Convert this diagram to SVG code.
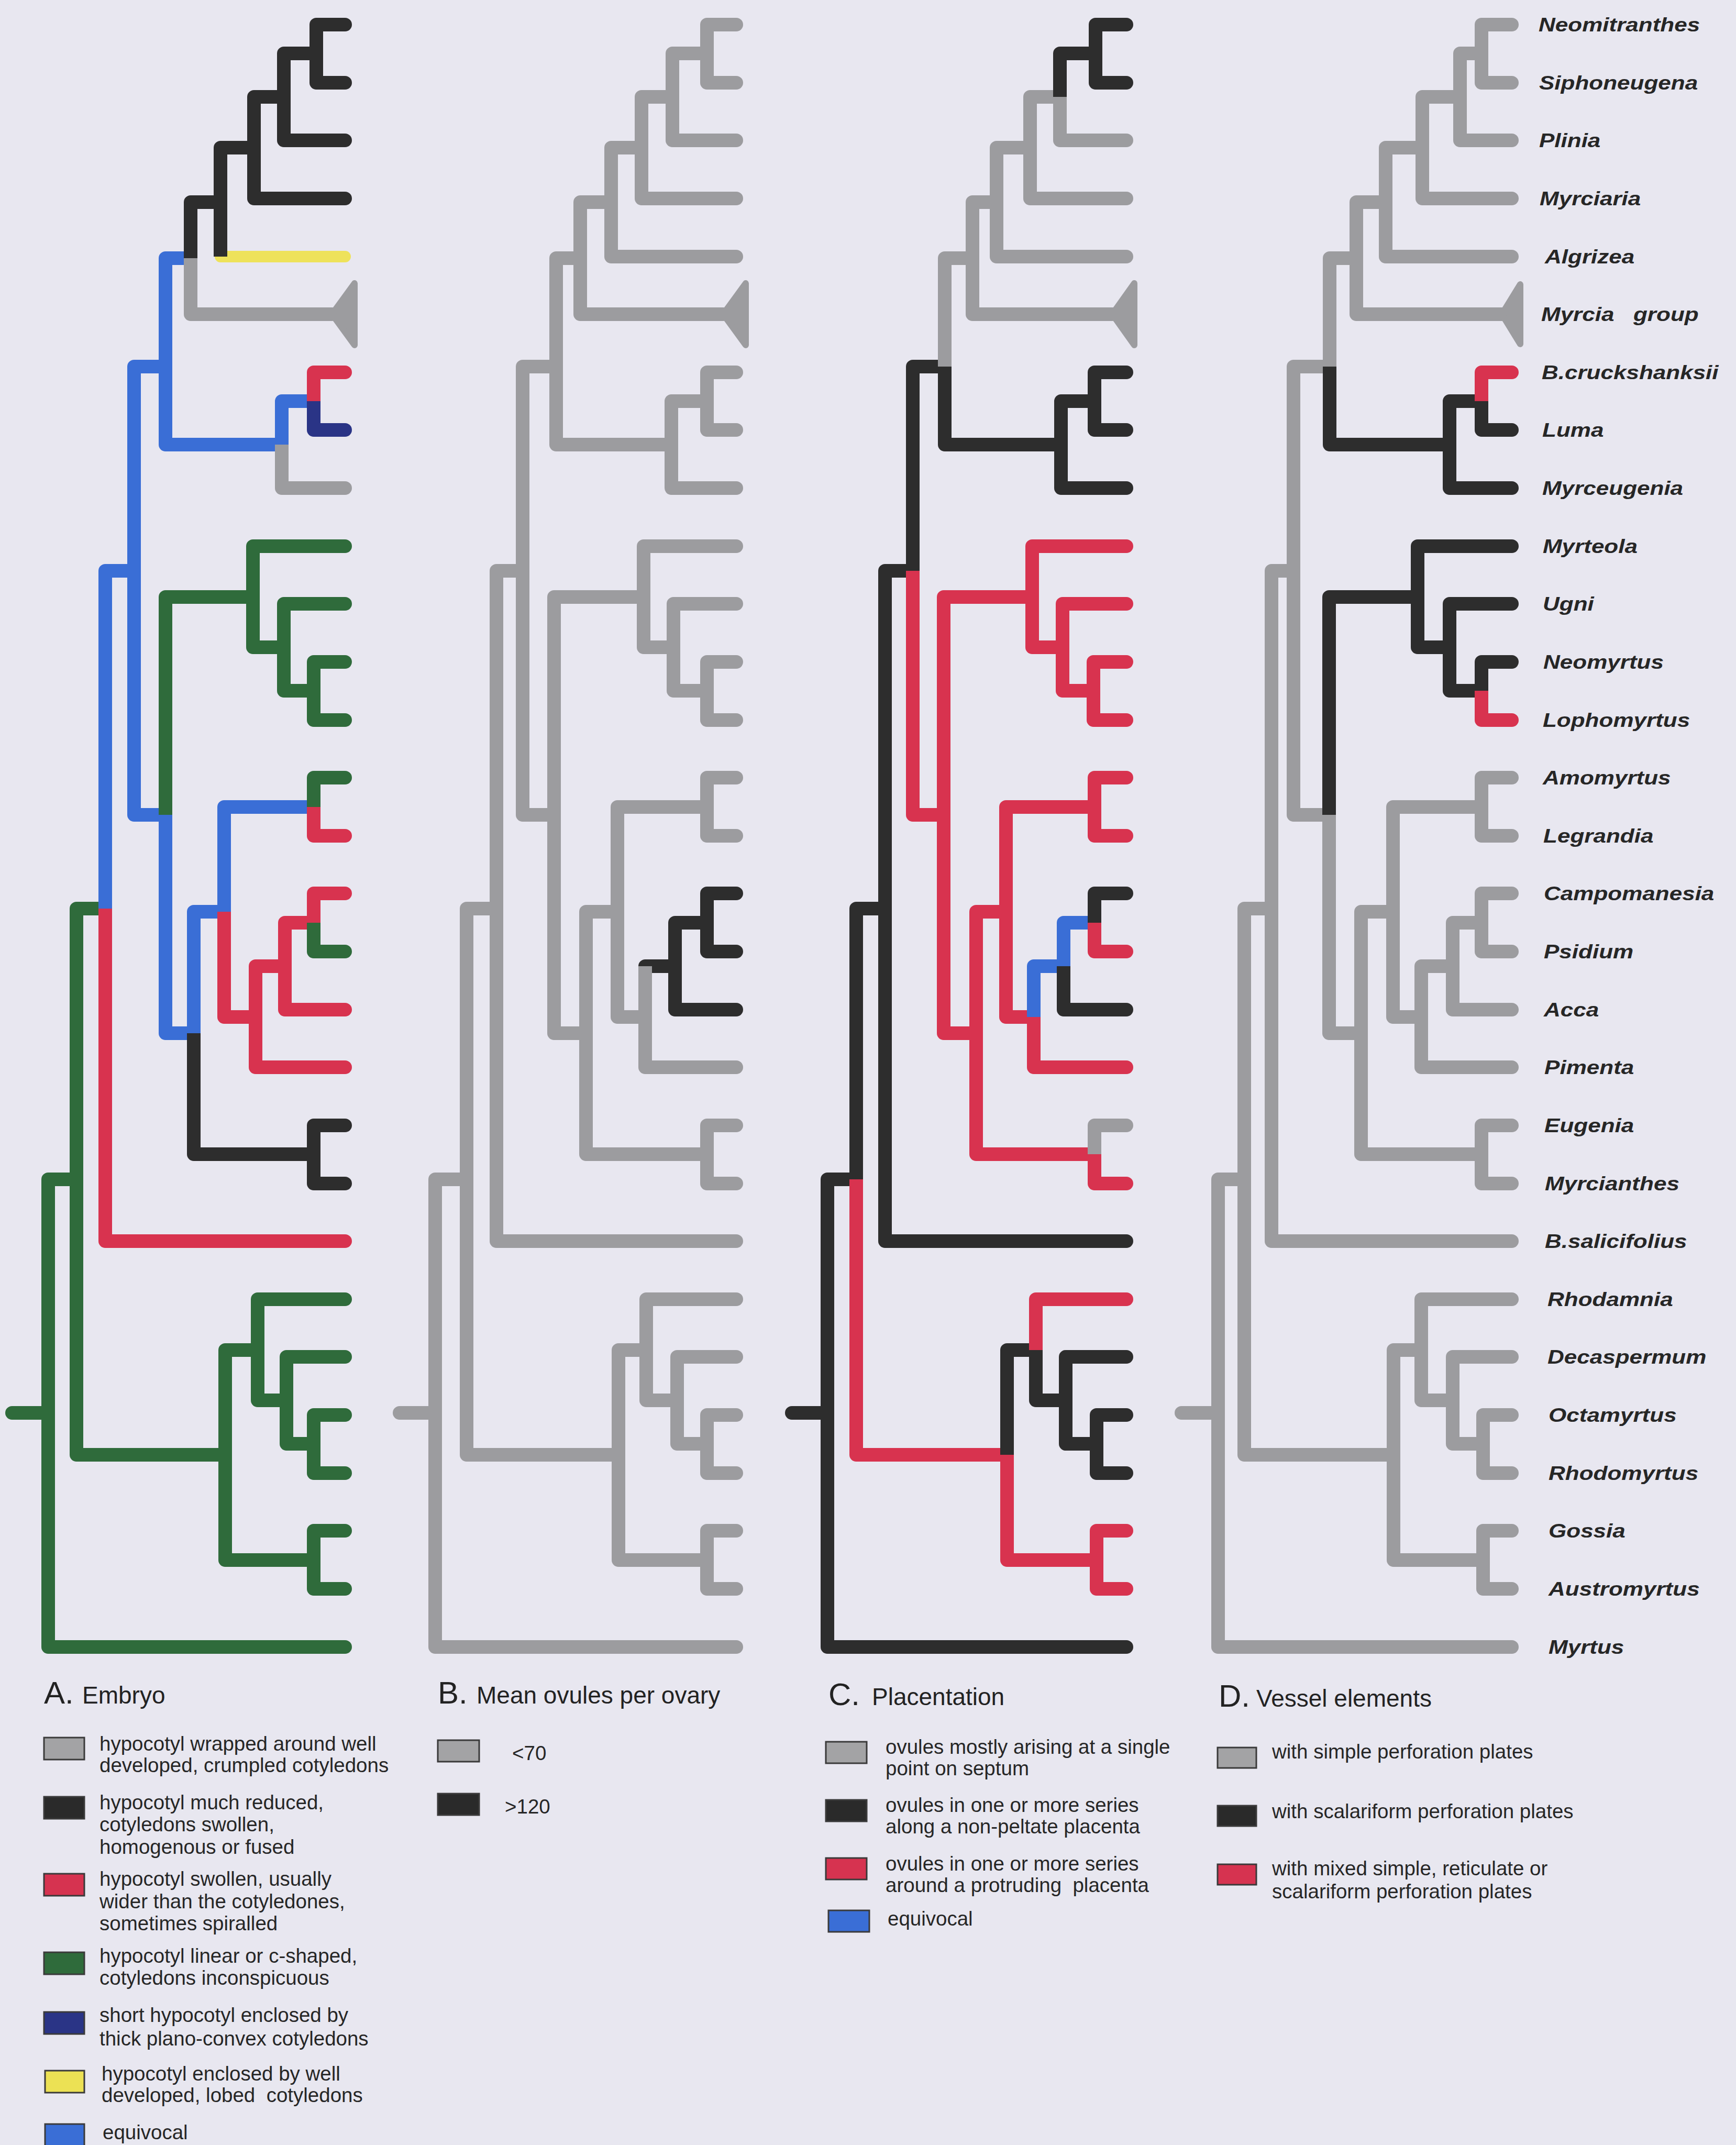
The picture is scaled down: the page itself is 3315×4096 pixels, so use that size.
<svg xmlns="http://www.w3.org/2000/svg" width="3315" height="4096" viewBox="0 0 3315 4096">
<style>
.h{fill:none;stroke-width:26;stroke-linecap:round}
.v{fill:none;stroke-width:26;stroke-linecap:butt}
.k{stroke:#2d2d2d}.g{stroke:#9c9c9f}.r{stroke:#d8334f}.n{stroke:#2f6b3b}.b{stroke:#3a6ed6}.nv{stroke:#2a3486}.y{stroke:#eee25a}
.tri{stroke-width:12;stroke-linejoin:round}
.lab{font-family:"Liberation Sans",Arial,sans-serif;font-weight:bold;font-style:italic;font-size:37px;fill:#262626}
.lt{font-family:"Liberation Sans",Arial,sans-serif;font-size:38.5px;fill:#262626}
.hd{font-family:"Liberation Sans",Arial,sans-serif;font-size:46px;fill:#222}
.hl{font-family:"Liberation Sans",Arial,sans-serif;font-size:60px;fill:#222}
.sw{stroke:#3a3a3a;stroke-width:3}
</style>
<rect width="3315" height="4096" fill="#e8e7f0"/>
<g id="connectors">
<g id="tree-A">
<path class="h n" d="M23,2698H92M92,2252H146M92,3145H659M146,1735H201M146,2778H430M316,1140H483M483,1043H659M483,1236H542M542,1153H659M542,1319H599M599,1264H659M599,1375H659M599,1485H659M599,1817H659M430,2578H492M430,2979H599M492,2481H659M492,2674H547M547,2591H659M547,2757H599M599,2702H659M599,2813H659M599,2923H659M599,3034H659"/>
<path class="h b" d="M201,1090H256M256,700H316M256,1556H316M316,493H364M316,849H538M538,766H599M316,1973H370M370,1741H428M428,1541H599"/>
<path class="h r" d="M201,2370H659M428,1942H488M488,1845H544M488,2038H659M544,1762H599M544,1928H659M599,1706H659M599,1596H659M599,711H659"/>
<path class="h k" d="M364,386H421M421,282H485M485,185H542M485,379H659M542,102H604M542,268H659M604,47H659M604,158H659M370,2204H599M599,2149H659M599,2260H659"/>
<path class="h y" style="stroke-width:22" d="M421,490H659"/>
<path class="h g" d="M364,600H634M538,932H659"/>
<path class="h nv" d="M599,821H659"/>
<polygon class="tri g" fill="#9c9c9f" points="634,600 677,541 677,659"/>
<path class="v n" d="M92,2252V3145M146,1735V2778M316,1556V1140M483,1043V1236M542,1153V1319M599,1264V1375M599,1541V1485M599,1762V1817M430,2578V2979M492,2481V2674M547,2591V2757M599,2702V2813M599,2923V3034"/>
<path class="v b" d="M201,1735V1090M256,700V1556M316,493V849M538,849V766M316,1556V1973M370,1973V1741M428,1741V1541"/>
<path class="v r" d="M201,1735V2370M428,1741V1942M488,1845V2038M544,1762V1928M599,1762V1706M599,1541V1596M599,766V711"/>
<path class="v k" d="M364,493V386M421,282V490M485,185V379M542,102V268M604,47V158M370,1973V2204M599,2149V2260"/>
<path class="v g" d="M364,493V600M538,849V932"/>
<path class="v nv" d="M599,766V821"/>
</g>
<g id="tree-B">
<path class="h g" d="M763,2698H831M831,2252H891M831,3145H1406M891,1735H948M891,2778H1181M948,1090H998M948,2370H1406M998,700H1062M998,1556H1058M1062,493H1108M1062,849H1282M1108,386H1167M1108,600H1381M1167,282H1225M1167,490H1406M1225,185H1284M1225,379H1406M1284,102H1350M1284,268H1406M1350,47H1406M1350,158H1406M1282,766H1350M1282,932H1406M1350,711H1406M1350,821H1406M1058,1140H1229M1058,1973H1119M1229,1043H1406M1229,1236H1286M1286,1153H1406M1286,1319H1350M1350,1264H1406M1350,1375H1406M1119,1741H1179M1119,2204H1350M1179,1541H1350M1179,1942H1232M1350,1485H1406M1350,1596H1406M1232,2038H1406M1350,2149H1406M1350,2260H1406M1181,2578H1234M1181,2979H1350M1234,2481H1406M1234,2674H1293M1293,2591H1406M1293,2757H1350M1350,2702H1406M1350,2813H1406M1350,2923H1406M1350,3034H1406"/>
<path class="h k" d="M1232,1845H1289M1289,1762H1350M1289,1928H1406M1350,1706H1406M1350,1817H1406"/>
<polygon class="tri g" fill="#9c9c9f" points="1381,600 1424,541 1424,659"/>
<path class="v g" d="M831,2252V3145M891,1735V2778M948,1090V2370M998,700V1556M1062,493V849M1108,386V600M1167,282V490M1225,185V379M1284,102V268M1350,47V158M1282,766V932M1350,711V821M1058,1140V1973M1229,1043V1236M1286,1153V1319M1350,1264V1375M1119,1741V2204M1179,1541V1942M1350,1485V1596M1232,1845V2038M1350,2149V2260M1181,2578V2979M1234,2481V2674M1293,2591V2757M1350,2702V2813M1350,2923V3034"/>
<path class="v k" d="M1289,1762V1928M1350,1706V1817"/>
</g>
<g id="tree-C">
<path class="h k" d="M1512,2698H1580M1580,2252H1635M1580,3145H2151M1635,1735H1690M1690,1090H1743M1690,2370H2151M1743,700H1804M1804,849H2026M2024,102H2092M2092,47H2151M2092,158H2151M2026,766H2090M2026,932H2151M2090,711H2151M2090,821H2151M2031,1928H2151M2090,1706H2151M1923,2578H1978M1978,2674H2035M2035,2591H2151M2035,2757H2094M2094,2702H2151M2094,2813H2151"/>
<path class="h r" d="M1635,2778H1923M1743,1556H1802M1802,1140H1971M1802,1973H1864M1971,1043H2151M1971,1236H2029M2029,1153H2151M2029,1319H2088M2088,1264H2151M2088,1375H2151M1864,1741H1921M1864,2204H2090M1921,1541H2090M1921,1942H1974M2090,1485H2151M2090,1596H2151M1974,2038H2151M2090,1817H2151M2090,2260H2151M1923,2979H2094M1978,2481H2151M2094,2923H2151M2094,3034H2151"/>
<path class="h g" d="M1804,493H1857M1857,386H1903M1857,600H2124M1903,282H1967M1903,490H2151M1967,185H2024M1967,379H2151M2024,268H2151M2090,2149H2151"/>
<path class="h b" d="M1974,1845H2031M2031,1762H2090"/>
<polygon class="tri g" fill="#9c9c9f" points="2124,600 2166,541 2166,659"/>
<path class="v k" d="M1580,2252V3145M1635,2252V1735M1690,1090V2370M1743,1090V700M1804,700V849M2024,185V102M2092,47V158M2026,766V932M2090,711V821M2031,1845V1928M2090,1762V1706M1923,2778V2578M1978,2578V2674M2035,2591V2757M2094,2702V2813"/>
<path class="v r" d="M1635,2252V2778M1743,1090V1556M1802,1140V1973M1971,1043V1236M2029,1153V1319M2088,1264V1375M1864,1741V2204M1921,1541V1942M2090,1485V1596M1974,1942V2038M2090,1762V1817M2090,2204V2260M1923,2778V2979M1978,2578V2481M2094,2923V3034"/>
<path class="v g" d="M1804,700V493M1857,386V600M1903,282V490M1967,185V379M2024,185V268M2090,2204V2149"/>
<path class="v b" d="M1974,1942V1845M2031,1845V1762"/>
</g>
<g id="tree-D">
<path class="h g" d="M2256,2698H2326M2326,2252H2376M2326,3145H2887M2376,1735H2428M2376,2778H2661M2428,1090H2470M2428,2370H2887M2470,700H2539M2470,1556H2538M2539,493H2590M2590,386H2646M2590,600H2868M2646,282H2716M2646,490H2887M2716,185H2788M2716,379H2887M2788,102H2829M2788,268H2887M2829,47H2887M2829,158H2887M2538,1973H2599M2599,1741H2660M2599,2204H2829M2660,1541H2829M2660,1942H2714M2829,1485H2887M2829,1596H2887M2714,1845H2774M2714,2038H2887M2774,1762H2829M2774,1928H2887M2829,1706H2887M2829,1817H2887M2829,2149H2887M2829,2260H2887M2661,2578H2714M2661,2979H2832M2714,2481H2887M2714,2674H2774M2774,2591H2887M2774,2757H2832M2832,2702H2887M2832,2813H2887M2832,2923H2887M2832,3034H2887"/>
<path class="h k" d="M2539,849H2768M2768,766H2829M2768,932H2887M2829,821H2887M2538,1140H2707M2707,1043H2887M2707,1236H2768M2768,1153H2887M2768,1319H2829M2829,1264H2887"/>
<path class="h r" d="M2829,711H2887M2829,1375H2887"/>
<polygon class="tri g" fill="#9c9c9f" points="2868,600 2903,543 2903,657"/>
<path class="v g" d="M2326,2252V3145M2376,1735V2778M2428,1090V2370M2470,700V1556M2539,700V493M2590,386V600M2646,282V490M2716,185V379M2788,102V268M2829,47V158M2538,1556V1973M2599,1741V2204M2660,1541V1942M2829,1485V1596M2714,1845V2038M2774,1762V1928M2829,1706V1817M2829,2149V2260M2661,2578V2979M2714,2481V2674M2774,2591V2757M2832,2702V2813M2832,2923V3034"/>
<path class="v k" d="M2539,700V849M2768,766V932M2829,766V821M2538,1556V1140M2707,1043V1236M2768,1153V1319M2829,1319V1264"/>
<path class="v r" d="M2829,766V711M2829,1319V1375"/>
</g>
</g>
<g id="taxa" transform="scale(1.19,1)">
<g id="t0"><text class="lab" x="2468.9" y="60">Neomitranthes</text></g>
<g id="t1"><text class="lab" x="2469.7" y="171">Siphoneugena</text></g>
<g id="t2"><text class="lab" x="2469.7" y="281">Plinia</text></g>
<g id="t3"><text class="lab" x="2470.6" y="392">Myrciaria</text></g>
<g id="t4"><text class="lab" x="2479" y="503">Algrizea</text></g>
<g id="t5"><text class="lab" x="2473.1" y="613">Myrcia<tspan x="2621">group</tspan></text></g>
<g id="t6"><text class="lab" x="2473.9" y="724">B.cruckshanksii</text></g>
<g id="t7"><text class="lab" x="2474.8" y="834">Luma</text></g>
<g id="t8"><text class="lab" x="2474.8" y="945">Myrceugenia</text></g>
<g id="t9"><text class="lab" x="2475.6" y="1056">Myrteola</text></g>
<g id="t10"><text class="lab" x="2475.6" y="1166">Ugni</text></g>
<g id="t11"><text class="lab" x="2476.5" y="1277">Neomyrtus</text></g>
<g id="t12"><text class="lab" x="2475.6" y="1388">Lophomyrtus</text></g>
<g id="t13"><text class="lab" x="2475.6" y="1498">Amomyrtus</text></g>
<g id="t14"><text class="lab" x="2476.5" y="1609">Legrandia</text></g>
<g id="t15"><text class="lab" x="2477.3" y="1719">Campomanesia</text></g>
<g id="t16"><text class="lab" x="2477.3" y="1830">Psidium</text></g>
<g id="t17"><text class="lab" x="2477.3" y="1941">Acca</text></g>
<g id="t18"><text class="lab" x="2478.2" y="2051">Pimenta</text></g>
<g id="t19"><text class="lab" x="2478.2" y="2162">Eugenia</text></g>
<g id="t20"><text class="lab" x="2479" y="2273">Myrcianthes</text></g>
<g id="t21"><text class="lab" x="2479" y="2383">B.salicifolius</text></g>
<g id="t22"><text class="lab" x="2483.2" y="2494">Rhodamnia</text></g>
<g id="t23"><text class="lab" x="2483.2" y="2604">Decaspermum</text></g>
<g id="t24"><text class="lab" x="2484.9" y="2715">Octamyrtus</text></g>
<g id="t25"><text class="lab" x="2484.9" y="2826">Rhodomyrtus</text></g>
<g id="t26"><text class="lab" x="2484.9" y="2936">Gossia</text></g>
<g id="t27"><text class="lab" x="2484.9" y="3047">Austromyrtus</text></g>
<g id="t28"><text class="lab" x="2484.9" y="3158">Myrtus</text></g>
</g>
<g id="legend-A">
<text class="hl" x="84" y="3253">A.</text><text class="hd" x="157" y="3253">Embryo</text>
<rect class="sw" x="84" y="3318" width="77" height="42" fill="#a3a3a5"/>
<text class="lt" x="190" y="3343">hypocotyl wrapped around well</text>
<text class="lt" x="190" y="3384">developed, crumpled cotyledons</text>
<rect class="sw" x="84" y="3431" width="77" height="42" fill="#2a2a2a"/>
<text class="lt" x="190" y="3455">hypocotyl much reduced,</text>
<text class="lt" x="190" y="3497">cotyledons swollen,</text>
<text class="lt" x="190" y="3540">homogenous or fused</text>
<rect class="sw" x="84" y="3578" width="77" height="42" fill="#d63350"/>
<text class="lt" x="190" y="3601">hypocotyl swollen, usually</text>
<text class="lt" x="190" y="3644">wider than the cotyledones,</text>
<text class="lt" x="190" y="3686">sometimes spiralled</text>
<rect class="sw" x="84" y="3728" width="77" height="42" fill="#2f6b3b"/>
<text class="lt" x="190" y="3748">hypocotyl linear or c-shaped,</text>
<text class="lt" x="190" y="3790">cotyledons inconspicuous</text>
<rect class="sw" x="84" y="3842" width="77" height="42" fill="#2a3486"/>
<text class="lt" x="190" y="3861">short hypocotyl enclosed by</text>
<text class="lt" x="190" y="3906">thick plano-convex cotyledons</text>
<rect class="sw" x="86" y="3954" width="75" height="42" fill="#ece154"/>
<text class="lt" x="194" y="3973">hypocotyl enclosed by well</text>
<text class="lt" x="194" y="4014" xml:space="preserve">developed, lobed  cotyledons</text>
<rect class="sw" x="86" y="4056" width="75" height="42" fill="#3a6ed6"/>
<text class="lt" x="196" y="4085">equivocal</text>
</g>
<g id="legend-B">
<text class="hl" x="836" y="3253">B.</text><text class="hd" x="910" y="3253">Mean ovules per ovary</text>
<rect class="sw" x="836" y="3323" width="79" height="41" fill="#a3a3a5"/>
<text class="lt" x="978" y="3361">&lt;70</text>
<rect class="sw" x="836" y="3425" width="79" height="41" fill="#2a2a2a"/>
<text class="lt" x="964" y="3463">&gt;120</text>
</g>
<g id="legend-C">
<text class="hl" x="1582" y="3256">C.</text><text class="hd" x="1665" y="3256">Placentation</text>
<rect class="sw" x="1577" y="3326" width="78" height="41" fill="#a3a3a5"/>
<text class="lt" x="1691" y="3349">ovules mostly arising at a single</text>
<text class="lt" x="1691" y="3390">point on septum</text>
<rect class="sw" x="1577" y="3437" width="78" height="41" fill="#2a2a2a"/>
<text class="lt" x="1691" y="3460">ovules in one or more series</text>
<text class="lt" x="1691" y="3501">along a non-peltate placenta</text>
<rect class="sw" x="1577" y="3548" width="78" height="41" fill="#d63350"/>
<text class="lt" x="1691" y="3572">ovules in one or more series</text>
<text class="lt" x="1691" y="3613" xml:space="preserve">around a protruding  placenta</text>
<rect class="sw" x="1582" y="3648" width="78" height="41" fill="#3a6ed6"/>
<text class="lt" x="1695" y="3677">equivocal</text>
</g>
<g id="legend-D">
<text class="hl" x="2327" y="3259">D.</text><text class="hd" x="2399" y="3259">Vessel elements</text>
<rect class="sw" x="2325" y="3337" width="74" height="39" fill="#a3a3a5"/>
<text class="lt" x="2429" y="3358">with simple perforation plates</text>
<rect class="sw" x="2325" y="3448" width="74" height="39" fill="#2a2a2a"/>
<text class="lt" x="2429" y="3472">with scalariform perforation plates</text>
<rect class="sw" x="2325" y="3560" width="74" height="39" fill="#d63350"/>
<text class="lt" x="2429" y="3581">with mixed simple, reticulate or</text>
<text class="lt" x="2429" y="3625">scalariform perforation plates</text>
</g>
</svg>
